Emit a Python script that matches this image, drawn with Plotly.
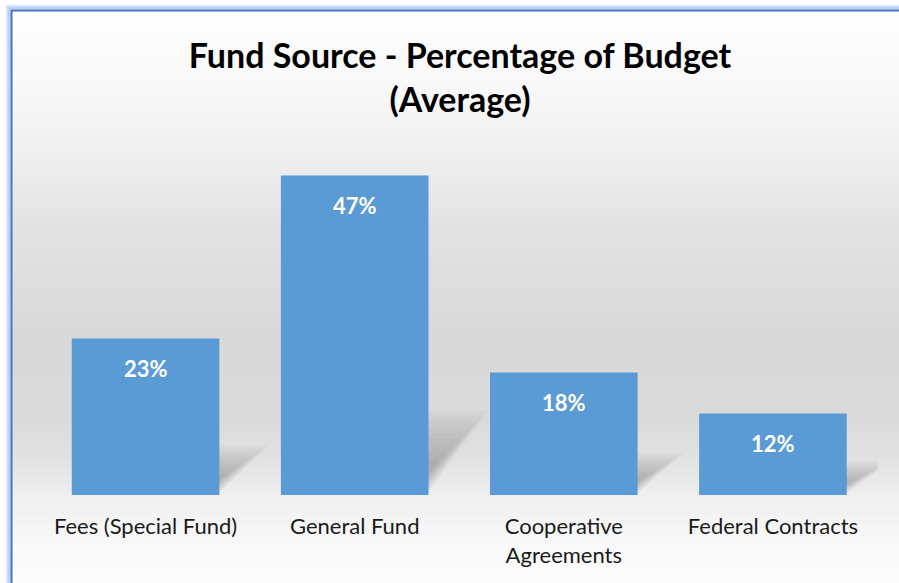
import plotly.graph_objects as go

categories = ["Fees (Special Fund)", "General Fund", "Cooperative<br>Agreements", "Federal Contracts"]
values = [23, 47, 18, 12]
labels = ["23%", "47%", "18%", "12%"]
title_text = "Fund Source - Percentage of Budget<br>(Average)"

W, H = 899, 583
FONT = "Lato"
BAR_COLOR = "#5B9BD5"

shapes = []

# background gradient bands (pixel rows -> paper coords)
stops = [(0, 255), (100, 247), (150, 240), (230, 226), (330, 217), (420, 218),
         (460, 226), (495, 239), (540, 248), (583, 253)]

def gray_at(y):
    for (y0, g0), (y1, g1) in zip(stops[:-1], stops[1:]):
        if y0 <= y <= y1:
            return g0 + (g1 - g0) * (y - y0) / (y1 - y0)
    return stops[-1][1]

step = 3
y = 10
while y < H:
    g = int(round(gray_at(y + step / 2)))
    shapes.append(dict(type="rect", xref="paper", yref="paper", layer="below",
                       x0=11 / W, x1=1.01, y0=1 - (y + step + 0.5) / H, y1=1 - y / H,
                       fillcolor=f"rgb({g},{g},{g})", line=dict(width=0)))
    y += step

# frame glow and border
for off, col in [(5, "rgba(120,160,235,0.18)"), (3.5, "rgba(120,160,235,0.3)"),
                 (2, "rgba(110,150,230,0.45)")]:
    shapes.append(dict(type="rect", xref="paper", yref="paper", layer="below",
                       x0=(11.5 - off) / W, x1=1.05, y0=-0.05, y1=1 - (10.5 - off) / H,
                       fillcolor="rgba(0,0,0,0)", line=dict(width=2, color=col)))
shapes.append(dict(type="rect", xref="paper", yref="paper", layer="below",
                   x0=11.5 / W, x1=1.05, y0=-0.05, y1=1 - 10.5 / H,
                   fillcolor="rgba(0,0,0,0)", line=dict(width=2, color="#4472C4")))

# soft perspective shadows behind bars
half = 0.353
n_layers = 14
for i, v in enumerate(values):
    dy = v * 0.21 + 2.5
    dx = 0.19 + v * 0.002
    for k in range(n_layers):
        s = 1 - k * 0.055
        shrink = k * 0.006
        shapes.append(dict(type="path", xref="x", yref="y", layer="below",
                           path=f"M {i - half + 0.02},0 L {i + half - 0.01 - shrink},0 "
                                f"L {i + half + dx * s - shrink},{dy * s} "
                                f"L {i - half + dx * s},{dy * s} Z",
                           fillcolor="rgba(80,80,80,0.035)", line=dict(width=0)))

fig = go.Figure()
fig.add_trace(go.Bar(
    x=list(range(len(categories))), y=values, width=0.706,
    marker=dict(color=BAR_COLOR, line=dict(width=0)),
    hoverinfo="skip",
))

annotations = []
for i, (v, lab) in enumerate(zip(values, labels)):
    annotations.append(dict(x=i, y=v, xref="x", yref="y", text=f"<b>{lab}</b>",
                            showarrow=False, yshift=-30,
                            font=dict(family=FONT, size=22, color="white")))

fig.update_layout(
    width=W, height=H,
    margin=dict(l=0, r=0, t=0, b=0),
    paper_bgcolor="white", plot_bgcolor="rgba(0,0,0,0)",
    showlegend=False,
    title=dict(text=f"<b>{title_text}</b>", x=460 / W, xanchor="center",
               y=1 - 68 / H, yanchor="top",
               font=dict(family=FONT, size=34, color="black")),
    xaxis=dict(domain=[41 / W, 877.5 / W], range=[-0.5, 3.5],
               tickmode="array", tickvals=list(range(len(categories))), ticktext=categories,
               showgrid=False, zeroline=False, showline=False, ticks="",
               tickfont=dict(family=FONT, size=22, color="#1a1a1a"), ticklabelstandoff=16),
    yaxis=dict(domain=[(H - 495) / H, (H - 155) / H], range=[0, 50],
               visible=False, showgrid=False, zeroline=False),
    shapes=shapes,
    annotations=annotations,
    font=dict(family=FONT),
)

fig.write_html("out.html", config={"displayModeBar": False},
               post_script="document.body.style.margin='0';document.body.style.overflow='hidden';")
